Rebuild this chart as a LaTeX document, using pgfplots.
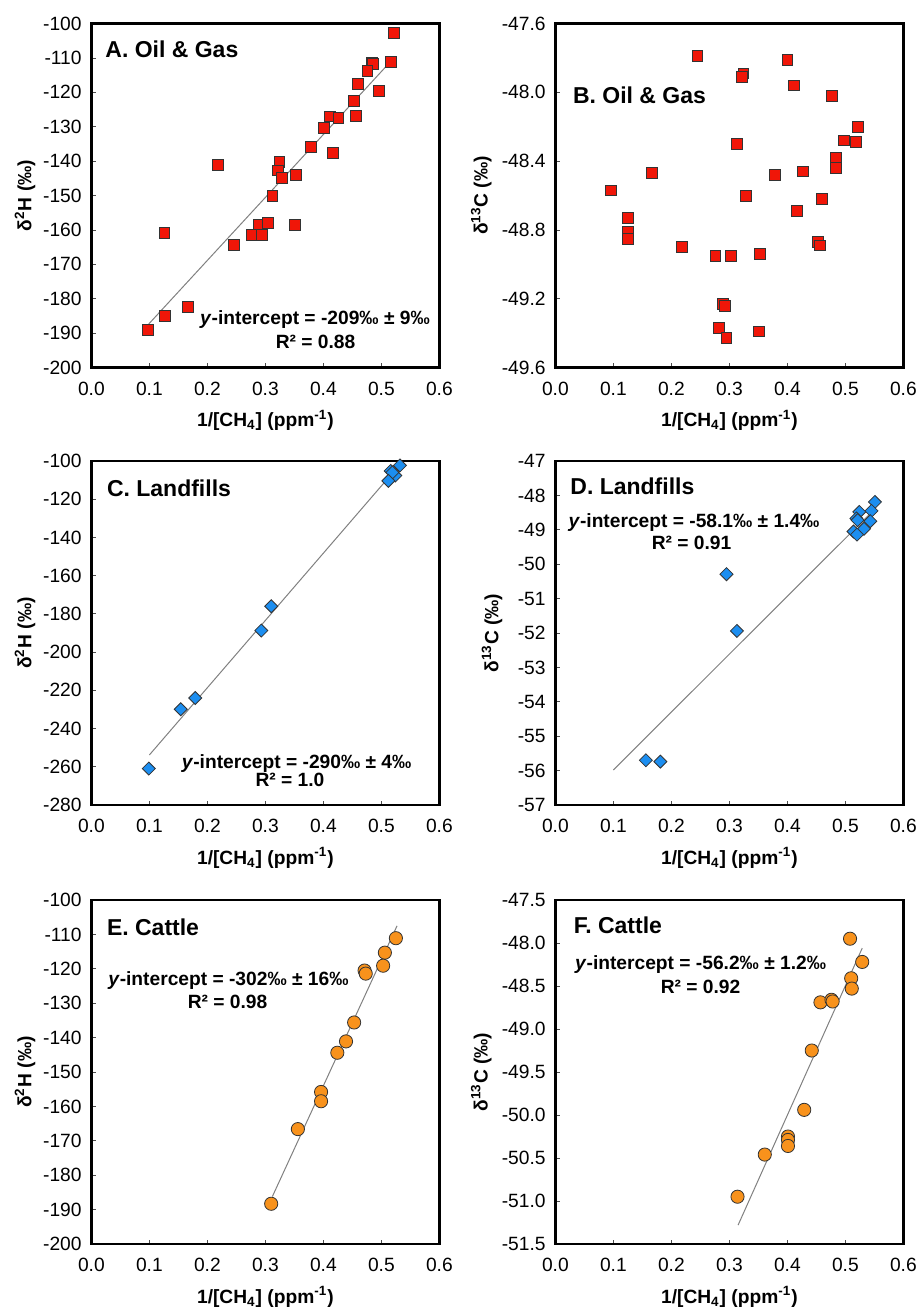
\documentclass[border=0pt]{standalone}
\usepackage{fontspec}
\setmainfont{Liberation Sans}
\usepackage{pgfplots}
\pgfplotsset{compat=1.18}

\definecolor{oilred}{RGB}{240,22,8}
\definecolor{landblue}{RGB}{28,142,240}
\definecolor{cattleorange}{RGB}{248,146,28}

\pgfplotsset{
  panel/.style={
    scale only axis, width=174pt, height=172pt,
    anchor=north west, clip=false,
    xmin=0, xmax=0.6, xtick={0,0.1,0.2,0.3,0.4,0.5,0.6},
    axis line style={line width=1.3pt},
    tick align=inside, xtick pos=bottom, ytick pos=left,
    major tick length=2.2pt,
    tick style={gray!60!black, line width=0.4pt},
    /pgf/number format/assume math mode=true,
    xticklabel style={/pgf/number format/fixed, /pgf/number format/fixed zerofill, /pgf/number format/precision=1, yshift=-3.8pt},
    yticklabel style={xshift=-1.5pt},
    xlabel={1/[CH\textsubscript{4}] (ppm\textsuperscript{-1})},
    every axis x label/.style={at={(axis description cs:0.5,-0.154)}, anchor=center, font=\bfseries},
  },
  ylab/.style={every axis y label/.style={at={(axis description cs:#1,0.5)}, rotate=90, anchor=center, font=\bfseries}},
  fitline/.style={gray, line width=0.5pt, no marks},
  oil/.style={only marks, mark=square*, mark size=2.7pt, mark options={fill=oilred, draw=black!80, line width=0.4pt}},
  land/.style={only marks, mark=square*, mark size=2.3pt, mark options={rotate=45, fill=landblue, draw=black!80, line width=0.4pt}},
  cattle/.style={only marks, mark=*, mark size=3.3pt, mark options={fill=cattleorange, draw=black!80, line width=0.4pt}},
}

\begin{document}
\fontsize{9.6}{11.5}\selectfont
\begin{tikzpicture}
\path[use as bounding box] (0,0) rectangle (459.5pt,-654pt);

% A. Oil & Gas, d2H
\begin{axis}[panel, at={(45.7pt,-11.75pt)}, ylab=-0.191,
  ymin=-200, ymax=-100, ytick={-200,-190,-180,-170,-160,-150,-140,-130,-120,-110,-100},
  ylabel={δ\textsuperscript{2}H (‰)}]
\addplot[fitline] coordinates {(0.097,-187.7) (0.52,-110.3)};
\addplot[oil] coordinates {
(0.522,-102.8) (0.517,-111.1) (0.483,-111.3) (0.485,-111.8) (0.476,-113.7)
(0.460,-117.6) (0.496,-119.7) (0.453,-122.6) (0.411,-127.0) (0.426,-127.4)
(0.456,-126.9) (0.401,-130.3) (0.378,-135.9) (0.417,-137.5) (0.218,-141.0)
(0.324,-140.2) (0.322,-142.7) (0.329,-144.9) (0.352,-144.0) (0.312,-150.2)
(0.126,-160.8) (0.288,-158.4) (0.304,-157.9) (0.351,-158.5) (0.277,-161.4)
(0.294,-161.4) (0.246,-164.3) (0.167,-182.3) (0.127,-184.9) (0.097,-189.1)};
\end{axis}

% B. Oil & Gas, d13C
\begin{axis}[panel, at={(277.7pt,-11.75pt)}, ylab=-0.213,
  ymin=-49.6, ymax=-47.6, ytick={-49.6,-49.2,-48.8,-48.4,-48.0,-47.6},
  yticklabel style={/pgf/number format/fixed, /pgf/number format/fixed zerofill, /pgf/number format/precision=1},
  ylabel={δ\textsuperscript{13}C (‰)}]
\addplot[oil] coordinates {
(0.245,-47.79) (0.400,-47.81) (0.324,-47.89) (0.321,-47.91) (0.411,-47.96)
(0.477,-48.02) (0.522,-48.20) (0.497,-48.28) (0.518,-48.29) (0.313,-48.30)
(0.484,-48.38) (0.484,-48.44) (0.166,-48.47) (0.378,-48.48) (0.427,-48.46)
(0.096,-48.57) (0.328,-48.60) (0.459,-48.62) (0.416,-48.69) (0.125,-48.73)
(0.125,-48.81) (0.125,-48.85) (0.218,-48.90) (0.453,-48.87) (0.456,-48.89)
(0.276,-48.95) (0.303,-48.95) (0.352,-48.94) (0.289,-49.23) (0.292,-49.24)
(0.282,-49.37) (0.351,-49.39) (0.295,-49.43)};
\end{axis}

% C. Landfills, d2H
\begin{axis}[panel, at={(45.7pt,-230.5pt)}, ylab=-0.191,
  ymin=-280, ymax=-100, ytick={-280,-260,-240,-220,-200,-180,-160,-140,-120,-100},
  ylabel={δ\textsuperscript{2}H (‰)}]
\addplot[fitline] coordinates {(0.10,-253.8) (0.535,-100.7)};
\addplot[land] coordinates {
(0.532,-102.3) (0.516,-105.2) (0.524,-107.6) (0.519,-106.0) (0.512,-110.4)
(0.310,-176.0) (0.293,-188.7) (0.179,-224.0) (0.154,-229.9) (0.099,-260.9)};
\end{axis}

% D. Landfills, d13C
\begin{axis}[panel, at={(277.7pt,-230.5pt)}, ylab=-0.182,
  ymin=-57, ymax=-47, ytick={-57,-56,-55,-54,-53,-52,-51,-50,-49,-48,-47},
  ylabel={δ\textsuperscript{13}C (‰)}]
\addplot[fitline] coordinates {(0.10,-55.98) (0.545,-48.49)};
\addplot[land] coordinates {
(0.551,-48.19) (0.545,-48.45) (0.524,-48.48) (0.519,-48.67) (0.521,-48.72)
(0.543,-48.75) (0.532,-48.97) (0.514,-49.05) (0.520,-49.14)
(0.295,-50.29) (0.313,-51.94) (0.156,-55.70) (0.181,-55.74)};
\end{axis}

% E. Cattle, d2H
\begin{axis}[panel, at={(45.7pt,-450pt)}, ylab=-0.191,
  ymin=-200, ymax=-100, ytick={-200,-190,-180,-170,-160,-150,-140,-130,-120,-110,-100},
  ylabel={δ\textsuperscript{2}H (‰)}]
\addplot[fitline] coordinates {(0.312,-186.2) (0.527,-107.5)};
\addplot[cattle] coordinates {
(0.525,-111.1) (0.506,-115.3) (0.503,-119.1) (0.471,-120.5) (0.473,-121.4)
(0.453,-135.6) (0.439,-141.1) (0.424,-144.4) (0.396,-155.8) (0.396,-158.5)
(0.356,-166.6) (0.310,-188.3)};
\end{axis}

% F. Cattle, d13C
\begin{axis}[panel, at={(277.7pt,-450pt)}, ylab=-0.213,
  ymin=-51.5, ymax=-47.5, ytick={-51.5,-51,-50.5,-50,-49.5,-49,-48.5,-48,-47.5},
  yticklabel style={/pgf/number format/fixed, /pgf/number format/fixed zerofill, /pgf/number format/precision=1},
  ylabel={δ\textsuperscript{13}C (‰)}]
\addplot[fitline] coordinates {(0.315,-51.28) (0.529,-48.06)};
\addplot[cattle] coordinates {
(0.508,-47.95) (0.529,-48.22) (0.510,-48.41) (0.511,-48.53) (0.457,-48.69)
(0.476,-48.66) (0.478,-48.68) (0.442,-49.25) (0.429,-49.94) (0.401,-50.25)
(0.401,-50.29) (0.401,-50.36) (0.361,-50.46) (0.314,-50.95)};
\end{axis}

% panel titles and fit statistics
\begin{scope}[every node/.style={font=\fontsize{11.5}{13}\bfseries\selectfont, anchor=west, inner sep=0pt}]
\node at (52.5pt,-24.5pt) {A. Oil \& Gas};
\node at (286.3pt,-47.5pt) {B. Oil \& Gas};
\node at (53.3pt,-244pt) {C. Landfills};
\node at (285pt,-243pt) {D. Landfills};
\node at (53.3pt,-463.7pt) {E. Cattle};
\node at (286.7pt,-462.5pt) {F. Cattle};
\end{scope}
\begin{scope}[every node/.style={font=\bfseries, inner sep=0pt}]
\node at (157.5pt,-160pt) {\textit{y}-intercept = -209‰ ± 9‰};
\node at (157.8pt,-170.8pt) {R² = 0.88};
\node at (148.3pt,-381.7pt) {\textit{y}-intercept = -290‰ ± 4‰};
\node at (145pt,-390pt) {R² = 1.0};
\node at (347pt,-261.3pt) {\textit{y}-intercept = -58.1‰ ± 1.4‰};
\node at (345.8pt,-271.3pt) {R² = 0.91};
\node at (114.2pt,-490.5pt) {\textit{y}-intercept = -302‰ ± 16‰};
\node at (113.8pt,-500.8pt) {R² = 0.98};
\node at (350.3pt,-482.5pt) {\textit{y}-intercept = -56.2‰ ± 1.2‰};
\node at (350.3pt,-493.3pt) {R² = 0.92};
\end{scope}
\end{tikzpicture}
\end{document}
